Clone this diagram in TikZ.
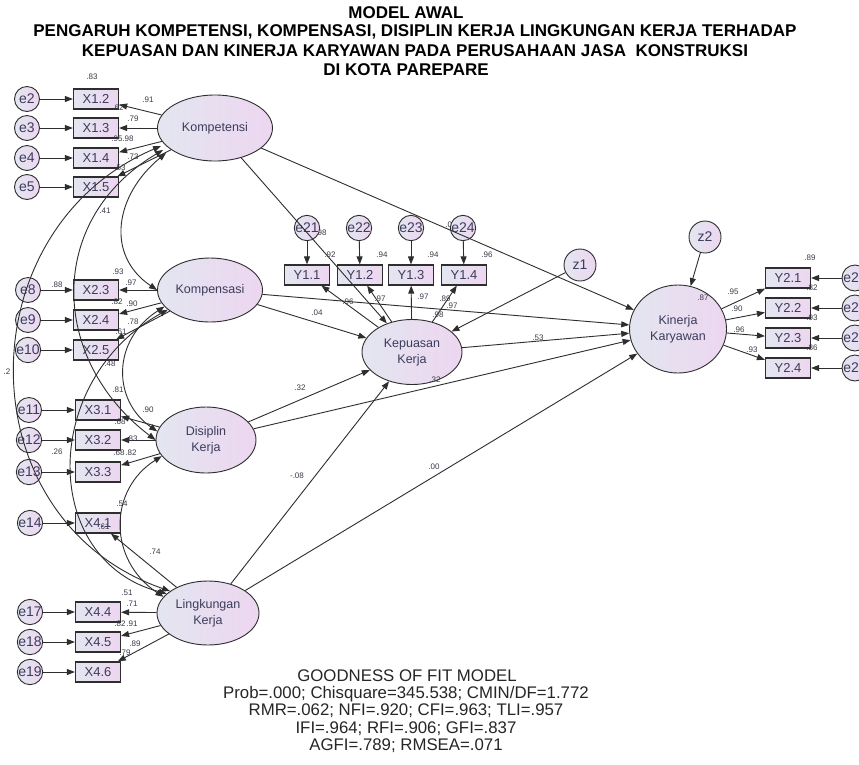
\documentclass[tikz,border=0pt]{standalone}
\usepackage{fontspec}
\setmainfont{Liberation Sans}
\usetikzlibrary{shapes.geometric,arrows.meta}
\definecolor{lineC}{HTML}{2E2E2E}
\definecolor{fillL}{HTML}{E3E6F0}
\definecolor{fillR}{HTML}{EDD6F0}
\definecolor{txtC}{HTML}{3C3C5C}
\definecolor{labC}{HTML}{3A3A4A}
\tikzset{
  lat/.style={ellipse, draw=lineC, line width=0.9pt, left color=fillL, right color=fillR, inner sep=0pt, font=\fontsize{12.5}{16}\selectfont, text=txtC, align=center},
  obs/.style={rectangle, draw=lineC, line width=1.2pt, minimum width=45pt, minimum height=20pt, left color=fillL, right color=fillR, inner sep=0pt, font=\fontsize{13}{14}\selectfont, text=txtC},
  err/.style={circle, draw=lineC, line width=0.9pt, minimum size=25pt, left color=fillL, right color=fillR, inner sep=0pt, font=\fontsize{14}{15}\selectfont, text=txtC},
  arr/.style={-{Triangle[length=8pt,width=6pt]}, line width=0.9pt, draw=lineC},
  dbl/.style={{Triangle[length=8pt,width=6pt]}-{Triangle[length=8pt,width=6pt]}, line width=0.9pt, draw=lineC},
  lab/.style={font=\fontsize{8}{9}\selectfont, text=labC, inner sep=0pt},
  ttl/.style={font=\bfseries\fontsize{17}{18}\selectfont, inner sep=0pt},
  fit/.style={font=\fontsize{16.8}{18}\selectfont, inner sep=0pt, text=black!85}
}
\begin{document}
\begin{tikzpicture}[x=1pt,y=1pt]
\clip (0,0) rectangle (859,-764);
\fill[white] (0,0) rectangle (859,-764);

% labels partly hidden behind circles
\node[lab] (m1) at (321,-233) {.98};
\node[lab] (m6) at (451,-225) {.08};

% titles
\node[ttl] (t1) at (406,-13) {MODEL AWAL};
\node[ttl] (t2) at (415,-32) {PENGARUH KOMPETENSI, KOMPENSASI, DISIPLIN KERJA LINGKUNGAN KERJA TERHADAP};
\node[ttl] (t3) at (415,-51) {KEPUASAN DAN KINERJA KARYAWAN PADA PERUSAHAAN JASA\ \ KONSTRUKSI};
\node[ttl] (t4) at (406,-70) {DI KOTA PAREPARE};

% latent variables
\node[lat, minimum width=115pt, minimum height=66pt] (kpt) at (215,-128) {Kompetensi};
\node[lat, minimum width=105pt, minimum height=64pt] (kps) at (210,-290) {Kompensasi};
\node[lat, minimum width=100pt, minimum height=66pt] (dis) at (206,-440) {Disiplin\\Kerja};
\node[lat, minimum width=102pt, minimum height=64pt] (lin) at (208,-613) {Lingkungan\\Kerja};
\node[lat, minimum width=100pt, minimum height=65pt] (kep) at (412,-352) {Kepuasan\\Kerja};
\node[lat, minimum width=97pt, minimum height=88pt] (kin) at (678,-329) {Kinerja\\Karyawan};

% X indicators
\node[obs] (x12) at (96,-99) {X1.2};
\node[obs] (x13) at (96,-128) {X1.3};
\node[obs] (x14) at (96,-158) {X1.4};
\node[obs] (x15) at (96,-187) {X1.5};
\node[obs] (x23) at (96,-290) {X2.3};
\node[obs] (x24) at (96,-320) {X2.4};
\node[obs] (x25) at (96,-350) {X2.5};
\node[obs] (x31) at (98,-410) {X3.1};
\node[obs] (x32) at (98,-440) {X3.2};
\node[obs] (x33) at (98,-472) {X3.3};
\node[obs] (x41) at (98,-523) {X4.1};
\node[obs] (x44) at (98,-612) {X4.4};
\node[obs] (x45) at (98,-642) {X4.5};
\node[obs] (x46) at (98,-672) {X4.6};

% errors X
\node[err] (e2) at (27,-99) {e2};
\node[err] (e3) at (27,-128) {e3};
\node[err] (e4) at (27,-158) {e4};
\node[err] (e5) at (27,-187) {e5};
\node[err] (e8) at (28,-290) {e8};
\node[err] (e9) at (28,-320) {e9};
\node[err] (e10) at (28,-350) {e10};
\node[err] (e11) at (29,-410) {e11};
\node[err] (e12) at (29,-440) {e12};
\node[err] (e13) at (29,-472) {e13};
\node[err] (e14) at (30,-523) {e14};
\node[err] (e17) at (30,-612) {e17};
\node[err] (e18) at (30,-642) {e18};
\node[err] (e19) at (30,-672) {e19};

% Y1 indicators
\node[obs] (y11) at (307,-275) {Y1.1};
\node[obs] (y12) at (360,-275) {Y1.2};
\node[obs] (y13) at (411,-275) {Y1.3};
\node[obs] (y14) at (464,-275) {Y1.4};
\node[err] (e21) at (307,-228) {e21};
\node[err] (e22) at (359,-228) {e22};
\node[err] (e23) at (411,-228) {e23};
\node[err] (e24) at (463,-228) {e24};
\node[err, minimum size=32pt] (z1) at (580,-265) {z1};

% Y2 indicators
\node[obs] (y21) at (788,-278) {Y2.1};
\node[obs] (y22) at (788,-308) {Y2.2};
\node[obs] (y23) at (788,-338) {Y2.3};
\node[obs] (y24) at (788,-368) {Y2.4};
\node[err, minimum size=26pt] (e25) at (855,-278) {e25};
\node[err, minimum size=26pt] (e26) at (855,-308) {e26};
\node[err, minimum size=26pt] (e27) at (855,-338) {e27};
\node[err, minimum size=26pt] (e28) at (855,-368) {e28};
\node[err, minimum size=32pt] (z2) at (705,-237) {z2};

% error arrows
\foreach \e/\x in {e2/x12,e3/x13,e4/x14,e5/x15,e8/x23,e9/x24,e10/x25,e11/x31,e12/x32,e13/x33,e14/x41,e17/x44,e18/x45,e19/x46,e21/y11,e22/y12,e23/y13,e24/y14,e25/y21,e26/y22,e27/y23,e28/y24}
  \draw[arr] (\e) -- (\x);

% loadings
\foreach \x in {x12,x13,x14,x15} \draw[arr] (kpt) -- (\x);
\foreach \x in {x23,x24,x25} \draw[arr] (kps) -- (\x);
\foreach \x in {x31,x32,x33} \draw[arr] (dis) -- (\x);
\foreach \x in {x41,x44,x45,x46} \draw[arr] (lin) -- (\x);
\foreach \x in {y11,y12,y13,y14} \draw[arr] (kep) -- (\x);
\foreach \x in {y21,y22,y23,y24} \draw[arr] (kin) -- (\x);

% structural paths
\draw[arr] (kpt) -- (kep);
\draw[arr] (kpt) -- (kin);
\draw[arr] (kps) -- (kep);
\draw[arr] (kps) -- (kin);
\draw[arr] (dis) -- (kep);
\draw[arr] (dis) -- (kin);
\draw[arr] (lin) -- (kep);
\draw[arr] (lin) -- (kin);
\draw[arr] (kep) -- (kin);
\draw[arr] (z1) -- (kep);
\draw[arr] (z2) -- (kin);

% correlations
\coordinate (ka) at (161,-146);
\coordinate (kb) at (163,-150);
\coordinate (kc) at (166,-153);
\draw[dbl] (kc) .. controls (115,-195) and (105,-255) .. (kps.west);
\draw[dbl] (kb) .. controls (45,-220) and (50,-360) .. (dis.west);
\draw[dbl] (ka) .. controls (-35,-230) and (-35,-520) .. (lin.150);
\draw[dbl] (kps.200) .. controls (112,-340) and (112,-400) .. (dis.170);
\draw[dbl] (kps.205) .. controls (40,-380) and (40,-560) .. (lin.155);
\draw[dbl] (dis.200) .. controls (108,-490) and (108,-560) .. (lin.160);

% labels X side
\node[lab] (l1) at (92,-77) {.83};
\node[lab] (l2) at (148,-100) {.91};
\node[lab] (l3) at (118,-108) {.62};
\node[lab] (l4) at (133,-119) {.79};
\node[lab] (l5) at (117,-139) {.95};
\node[lab] (l6) at (128,-139) {.98};
\node[lab] (l7) at (133,-157) {.73};
\node[lab] (l8) at (120,-168) {.53};
\node[lab] (l9) at (105,-211) {.41};
\node[lab] (l10) at (118,-272) {.93};
\node[lab] (l11) at (57,-285) {.88};
\node[lab] (l12) at (131,-283) {.97};
\node[lab] (l13) at (117,-302) {.82};
\node[lab] (l14) at (132,-304) {.90};
\node[lab] (l15) at (133,-322) {.78};
\node[lab] (l16) at (121,-332) {.61};
\node[lab] (l17) at (110,-364) {.48};
\node[lab] (l18) at (7,-372) {.2};
\node[lab] (l19) at (118,-390) {.81};
\node[lab] (l20) at (148,-410) {.90};
\node[lab] (l21) at (120,-422) {.68};
\node[lab] (l22) at (132,-439) {.83};
\node[lab] (l23) at (119,-453) {.68};
\node[lab] (l24) at (131,-453) {.82};
\node[lab] (l25) at (57,-452) {.26};
\node[lab] (l26) at (122,-504) {.54};
\node[lab] (l27) at (104,-527) {.61};
\node[lab] (l28) at (155,-552) {.74};
\node[lab] (l29) at (127,-593) {.51};
\node[lab] (l30) at (132,-604) {.71};
\node[lab] (l31) at (120,-624) {.82};
\node[lab] (l32) at (132,-624) {.91};
\node[lab] (l33) at (135,-644) {.89};
\node[lab] (l34) at (125,-653) {.79};

% labels Y1 / structural
\node[lab] (m2) at (330,-255) {.92};
\node[lab] (m3) at (382,-255) {.94};
\node[lab] (m4) at (433,-255) {.94};
\node[lab] (m5) at (487,-255) {.96};
\node[lab] (m7) at (348,-302) {.96};
\node[lab] (m8) at (380,-299) {.97};
\node[lab] (m9) at (423,-297) {.97};
\node[lab] (m10) at (445,-299) {.89};
\node[lab] (m11) at (452,-306) {.97};
\node[lab] (m12) at (438,-315) {.98};
\node[lab] (m13) at (317,-313) {.04};
\node[lab] (m14) at (538,-338) {.53};
\node[lab] (m15) at (435,-380) {.32};
\node[lab] (m16) at (300,-388) {.32};
\node[lab] (m17) at (297,-476) {-.08};
\node[lab] (m18) at (434,-467) {.00};

% labels Y2
\node[lab] (n1) at (703,-298) {.87};
\node[lab] (n2) at (810,-258) {.89};
\node[lab] (n3) at (812,-288) {.82};
\node[lab] (n4) at (812,-318) {.93};
\node[lab] (n5) at (812,-348) {.86};
\node[lab] (n6) at (733,-292) {.95};
\node[lab] (n7) at (737,-309) {.90};
\node[lab] (n8) at (739,-330) {.96};
\node[lab] (n9) at (752,-350) {.93};

% goodness of fit
\node[fit] (g1) at (407,-676) {GOODNESS OF FIT MODEL};
\node[fit] (g2) at (406,-694) {Prob=.000; Chisquare=345.538; CMIN/DF=1.772};
\node[fit] (g3) at (406,-711) {RMR=.062; NFI=.920; CFI=.963; TLI=.957};
\node[fit] (g4) at (406,-729) {IFI=.964; RFI=.906; GFI=.837};
\node[fit] (g5) at (406,-746) {AGFI=.789; RMSEA=.071};
\end{tikzpicture}
\end{document}
